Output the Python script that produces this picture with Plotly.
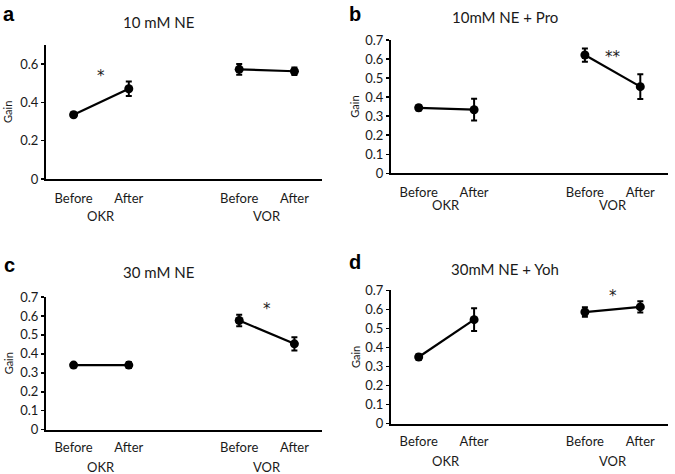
import plotly.graph_objects as go

categories = ["Before", "After", "Before", "After"]
cat_pos = [0, 1, 3, 4]
groups = ["OKR", "VOR"]
titles = ["10 mM NE", "10mM NE + Pro", "30 mM NE", "30mM NE + Yoh"]
panel_letters = ["a", "b", "c", "d"]

okr_mean_a = [0.335, 0.471]
okr_err_a = [0.012, 0.038]
vor_mean_a = [0.572, 0.562]
vor_err_a = [0.028, 0.02]

okr_mean_b = [0.344, 0.334]
okr_err_b = [0.014, 0.057]
vor_mean_b = [0.621, 0.455]
vor_err_b = [0.035, 0.065]

okr_mean_c = [0.341, 0.341]
okr_err_c = [0.008, 0.016]
vor_mean_c = [0.576, 0.453]
vor_err_c = [0.03, 0.035]

okr_mean_d = [0.350, 0.546]
okr_err_d = [0.015, 0.06]
vor_mean_d = [0.586, 0.613]
vor_err_d = [0.025, 0.03]

sig_text = ["*", "**", "*", "*"]
sig_x = [0.5, 3.5, 3.5, 3.5]
sig_y = [0.56, 0.633, 0.656, 0.69]

okr_means = [okr_mean_a, okr_mean_b, okr_mean_c, okr_mean_d]
okr_errs = [okr_err_a, okr_err_b, okr_err_c, okr_err_d]
vor_means = [vor_mean_a, vor_mean_b, vor_mean_c, vor_mean_d]
vor_errs = [vor_err_a, vor_err_b, vor_err_c, vor_err_d]

W, H = 675, 474
FONT = "Lato"
TXT = "#1a1a1a"

# pixel layout of each panel: (x_left, x_right, y_zero, y_top07)
panels = [
    (46, 322, 179.0, 44.8),
    (391, 668, 173.3, 40.0),
    (46, 322, 429.7, 297.0),
    (391, 668, 423.7, 290.3),
]
ytick_sets = [
    ([0, 0.2, 0.4, 0.6], ["0", "0.2", "0.4", "0.6"]),
    None, None, None,
]
xlabel_standoff = [6, 6, 5, 5]
group_shift = [-27, -22, -27, -27]

fig = go.Figure()
annotations = []
layout = {}

for i in range(4):
    xl, xr, y0, y7 = panels[i]
    xa = "x" if i == 0 else f"x{i+1}"
    ya = "y" if i == 0 else f"y{i+1}"
    xkey = "xaxis" if i == 0 else f"xaxis{i+1}"
    ykey = "yaxis" if i == 0 else f"yaxis{i+1}"
    for k, (m, e) in enumerate([(okr_means[i], okr_errs[i]), (vor_means[i], vor_errs[i])]):
        fig.add_trace(go.Scatter(
            x=cat_pos[2 * k:2 * k + 2], y=m,
            error_y=dict(type="data", array=e, visible=True, color="black", thickness=2, width=3),
            mode="lines+markers",
            line=dict(color="black", width=2.2),
            marker=dict(color="black", size=9),
            xaxis=xa, yaxis=ya, showlegend=False, hoverinfo="skip",
        ))
    if ytick_sets[i] is not None:
        tv, tt = ytick_sets[i]
    else:
        tv = [0, 0.1, 0.2, 0.3, 0.4, 0.5, 0.6, 0.7]
        tt = ["0", "0.1", "0.2", "0.3", "0.4", "0.5", "0.6", "0.7"]
    layout[xkey] = dict(
        domain=[xl / W, xr / W], range=[-0.5, 4.5], anchor=ya,
        tickmode="array", tickvals=cat_pos, ticktext=categories,
        showline=True, linecolor="black", linewidth=2, ticks="",
        ticklabelstandoff=xlabel_standoff[i],
        showgrid=False, zeroline=False, fixedrange=True, automargin=False,
        tickfont=dict(family=FONT, size=13, color=TXT),
    )
    layout[ykey] = dict(
        domain=[1 - y0 / H, 1 - y7 / H], range=[0, 0.7], anchor=xa,
        tickmode="array", tickvals=tv, ticktext=tt,
        showline=True, linecolor="black", linewidth=2,
        ticks="outside", ticklen=3, tickwidth=1.5, tickcolor="black",
        showgrid=False, zeroline=False, fixedrange=True, automargin=False,
        tickfont=dict(family=FONT, size=13, color=TXT),
    )
    # y-axis title
    gx = [8, 355, 8, 355][i]
    annotations.append(dict(
        x=gx / W, y=1 - (y0 + y7) / 2 / H, xref="paper", yref="paper", text="Gain",
        textangle=-90, showarrow=False, xanchor="center", yanchor="middle",
        font=dict(family=FONT, size=11, color=TXT),
    ))
    # group labels
    for g, gxx in zip(groups, [0.5, 3.5]):
        annotations.append(dict(
            x=gxx, y=0, xref=xa, yref=ya, text=g, showarrow=False,
            yanchor="top", yshift=group_shift[i],
            font=dict(family=FONT, size=13, color=TXT),
        ))
    # significance
    annotations.append(dict(
        x=sig_x[i], y=sig_y[i], xref=xa, yref=ya, text=sig_text[i], showarrow=False,
        yanchor="middle", yshift=-4,
        font=dict(family="DejaVu Sans", size=15, color=TXT),
    ))
    # title
    title_y = [22, 17, 272, 269][i]
    title_x = [158, 505, 158, 505][i]
    annotations.append(dict(
        x=title_x / W, y=1 - title_y / H, xref="paper", yref="paper", text=titles[i],
        showarrow=False, xanchor="center", yanchor="middle",
        font=dict(family=FONT, size=15, color=TXT),
    ))
    # panel letter
    lx = [9, 355, 9, 355][i]
    ly = [14, 14, 265, 262][i]
    annotations.append(dict(
        x=lx / W, y=1 - ly / H, xref="paper", yref="paper", text="<b>" + panel_letters[i] + "</b>",
        showarrow=False, xanchor="center", yanchor="middle",
        font=dict(family="Liberation Sans", size=20, color="black"),
    ))

fig.update_layout(
    width=W, height=H, margin=dict(l=0, r=0, t=0, b=0),
    paper_bgcolor="white", plot_bgcolor="white",
    annotations=annotations, **layout,
)

fig.write_html(
    "out.html",
    config={"displayModeBar": False, "staticPlot": True},
    post_script="document.body.style.margin='0';document.body.style.overflow='hidden';",
)
